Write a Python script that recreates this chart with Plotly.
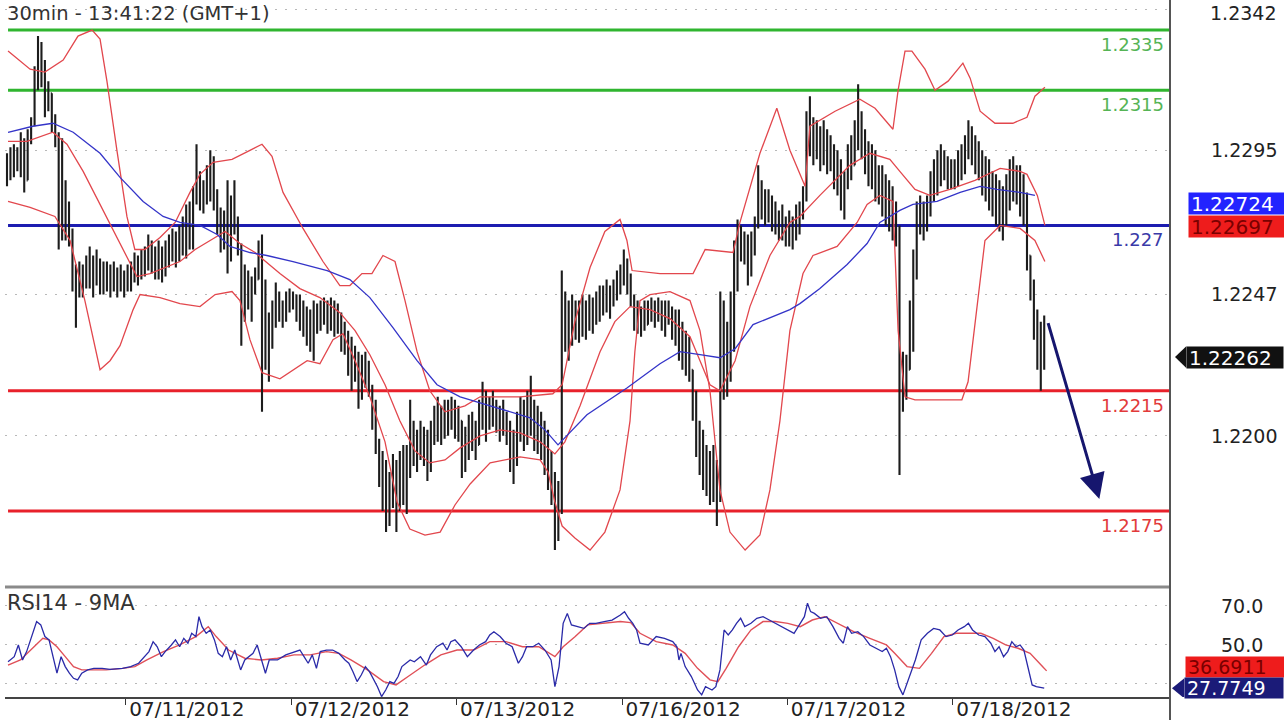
import plotly.graph_objects as go

# ---------------- data (prices in pips above 1.2000) ----------------
PIP = 0.0001
BASE = 1.2000

bar_open = [288,290,288,294,291,298,285,300,304,318,
320,324,311,314,305,299,270,278,270,268,
252,250,254,250,256,253,251,257,252,254,
251,253,250,252,250,251,253,255,257,254,
259,256,263,258,256,261,254,262,260,266,
262,267,265,272,270,278,286,280,283,281,
290,279,272,265,270,262,275,272,263,245,
249,246,250,252,262,228,240,230,240,247,
244,242,246,244,246,241,243,238,236,239,
241,237,242,240,243,238,241,236,232,230,
227,222,225,214,220,218,215,206,198,188,
182,173,178,184,176,190,185,187,200,195,
197,200,195,190,200,205,203,207,204,209,
206,203,205,192,197,200,203,197,208,213,
205,210,207,204,207,203,200,192,195,203,
206,199,210,208,200,203,196,190,186,183,
170,175,245,240,235,242,236,240,244,238,
243,240,246,244,247,249,245,250,252,254,
256,250,246,240,238,241,237,242,240,243,
241,238,242,240,236,238,230,227,231,222,
210,198,192,188,184,185,190,180,240,220,
228,240,255,265,267,262,255,265,270,283,
278,280,275,276,270,272,268,269,266,270,
272,275,280,300,305,295,300,293,298,290,
295,286,288,280,285,293,290,298,303,300,
292,295,285,288,280,283,275,278,270,268,
215,218,222,238,255,270,275,272,276,283,
288,285,293,289,287,288,285,291,289,296,
300,296,293,290,284,288,280,282,275,278,
272,282,285,283,287,278,280,260,250,238,
235,228]

bar_high = [294,296,297,296,301,299,302,306,323,333,
331,325,318,314,307,301,299,285,278,269,
257,258,257,260,263,260,262,259,258,258,
257,258,256,257,255,257,258,261,260,262,
263,267,265,263,265,263,265,267,269,268,
270,273,277,278,283,297,288,285,290,295,
293,282,276,275,285,280,285,273,264,257,
255,253,256,265,267,252,241,245,251,248,
245,248,249,248,247,247,245,243,242,245,
244,245,246,245,246,245,244,241,238,235,
233,230,228,227,228,225,217,212,199,195,
192,188,194,192,195,197,197,212,205,202,
205,203,202,205,210,213,210,212,212,213,
212,210,205,203,207,208,205,212,218,215,
213,215,212,210,212,208,205,202,208,213,
212,215,220,212,210,208,205,202,195,188,
185,255,248,245,247,245,245,247,245,247,
246,248,250,250,252,250,252,255,257,262,
259,254,247,245,243,245,245,246,245,246,
245,245,245,243,242,242,238,235,233,222,
215,205,202,197,195,197,192,248,245,238,
248,265,272,270,268,267,268,273,290,285,
282,282,280,278,275,277,273,275,273,277,
278,283,308,313,306,305,303,305,302,300,
297,295,292,288,297,300,305,317,308,302,
298,297,295,290,290,287,285,283,278,270,
228,227,245,262,278,280,278,280,288,292,
295,297,295,293,292,292,295,297,300,305,
303,300,298,295,293,292,288,287,285,283,
287,292,293,290,290,287,281,260,252,242,
238,240]

bar_low = [283,285,286,288,286,281,285,297,303,315,
316,306,308,301,296,262,265,265,263,248,
236,246,246,249,249,246,250,247,247,248,
246,248,246,248,246,248,248,251,250,252,
253,255,254,252,252,251,253,256,258,256,
258,260,259,262,262,277,275,274,277,278,
275,267,261,262,254,258,267,260,230,238,
242,238,247,252,208,222,218,229,236,238,
236,238,241,242,238,235,233,230,228,225,
234,235,237,234,235,233,234,228,227,220,
215,218,209,212,216,213,202,194,183,175,
168,170,176,168,175,177,174,186,190,188,
192,190,185,188,197,198,197,199,200,202,
199,198,186,188,192,195,192,197,202,198,
202,203,201,198,200,197,188,184,190,198,
195,197,200,195,194,192,187,182,177,162,
165,174,228,225,230,232,231,233,232,235,
234,237,238,240,241,239,243,245,247,250,
247,243,235,234,233,235,237,238,236,238,
235,233,237,232,230,225,222,220,218,205,
193,187,182,180,177,178,170,178,212,213,
218,228,248,258,257,250,253,260,269,272,
270,271,268,267,265,265,263,263,262,265,
267,272,278,293,290,292,288,290,287,288,
282,280,275,272,282,285,290,295,292,287,
283,282,278,277,273,270,268,265,263,187,
208,212,222,228,252,267,265,268,273,278,
280,283,285,282,282,282,283,285,287,292,
290,287,285,280,278,275,273,270,268,265,
270,275,278,277,273,270,255,245,232,222,
215,222]

bar_close = [290,288,294,291,298,285,300,304,318,320,
324,311,314,305,299,270,278,270,268,252,
250,254,250,256,253,251,257,252,254,251,
253,250,252,250,251,253,255,257,254,259,
256,263,258,256,261,254,262,260,266,262,
267,265,272,270,278,286,280,283,281,290,
279,272,265,270,262,275,272,263,245,249,
246,250,252,262,228,240,230,240,247,244,
242,246,244,246,241,243,238,236,239,241,
237,242,240,243,238,241,236,232,230,227,
222,225,214,220,218,215,206,198,188,182,
173,178,184,176,190,185,187,200,195,197,
200,195,190,200,205,203,207,204,209,206,
203,205,192,197,200,203,197,208,213,205,
210,207,204,207,203,200,192,195,203,206,
199,210,208,200,203,196,190,186,183,170,
175,245,240,235,242,236,240,244,238,243,
240,246,244,247,249,245,250,252,254,256,
250,246,240,238,241,237,242,240,243,241,
238,242,240,236,238,230,227,231,222,210,
198,192,188,184,185,190,180,240,220,228,
240,255,265,267,262,255,265,270,283,278,
280,275,276,270,272,268,269,266,270,272,
275,280,300,305,295,300,293,298,290,295,
286,288,280,285,293,290,298,303,300,292,
295,285,288,280,283,275,278,270,268,215,
218,222,238,255,270,275,272,276,283,288,
285,293,289,287,288,285,291,289,296,300,
296,293,290,284,288,280,282,275,278,272,
282,285,283,287,278,280,260,250,238,235,
228,226.2]

# Bollinger bands (red) and moving average (blue): bar position, pips
bb_upper_x = [0.3,6.7,11,16.3,20.6,24.7,27,29,31.9,34.8,37.1,40,44.4,48.8,53.1,56,59.8,65.3,70.5,74,
76.9,80.1,85.9,91.7,96.6,99.5,103,105.9,109.1,112.6,115.5,119,122.7,127.1,132.9,137.3,148.9,158.4,161.1,164.8,
169.2,173.5,177.9,179.9,181.4,189.5,199.1,202.6,210.7,212.7,218.5,223.4,227.2,231.6,233,240.3,247.5,251.9,257.1,258.6,
260.6,262.6,266.4,269.3,273.1,277.4,279.5,282.4,286.7,291.9,296,298.3,301.2]
bb_upper_y = [328,322,321,325,333,335,332,318,295,273,262,262,266,271,281,287,291,292,295,297,
293,281,269,258,250,250,254,254,260,258,245,228,215,208,210,213,213,214,217,238,
256,268,272,265,255,254,254,262,261,271,294,309,295,283,303,308,312,309,302,315,
328,328,322,315,318,324,319,308,304,304,306,313,316]

bb_mid_x = [0.3,5.8,13.3,17.4,22.1,27,31.9,34.8,37.7,41.5,45.9,50.2,54.6,58.9,63.3,67.6,72,74,79.2,85,
90.8,96.6,101,105.3,109.7,114,118.4,122.7,127.1,131.5,137.3,143.1,148.9,154.7,159,161.9,166.3,172.1,176.4,180.8,
186.6,192.4,198.2,201.1,204,206.9,211.3,215.6,221.4,227.2,230.1,235.9,244.6,250.4,256.2,259.1,263.5,267.8,273.6,280.9,
288.2,294,296,299,301.2]
bb_mid_y = [298,298,301,297,288,277,266,259,253,254,256,258,262,265,268,264,261,259,254,249,
246,241,235,227,217,205,195,191,192,196,200,202,201,198,194,198,210,228,238,243,
242,239,233,225,217,215,225,243,260,271,273,280,290,294,292,288,282,280,282,285,
289,288,287,280,270]

bb_lower_x = [0.3,6.7,13.9,18.3,22.6,27,29.9,32.8,36.6,38.6,44.4,50.2,56,60.4,65.3,67.6,70.5,74,79.2,83,
87.1,90.8,94.6,97.5,101,105.3,109.7,113.2,116.9,121.3,125.7,130,134.4,140.2,148.9,154.7,157,159,161.1,164.8,
169.2,173.5,177.9,180.8,182.2,183.7,186.6,192.4,198.2,201.1,204,206.9,209.8,214.2,218.5,221.4,224.3,227.2,231,233.9,
240.9,246.7,249.6,253.3,257.1,258.6,260.6,263.5,267.8,272.2,277.1,278.9,280.9,283.8,288.2,294,298.3,301.2]
bb_lower_y = [278,276,273,265,245,222,225,230,242,247,246,244,243,247,248,245,232,221,219,222,
225,224,232,234,225,213,198,178,169,167,168,177,184,191,193,192,188,178,170,166,
162,168,182,205,228,245,247,248,245,235,215,182,168,162,167,182,205,235,254,260,
263,271,277,280,278,235,213,212,212,212,212,218,238,265,270,269,265,258]

ma_x = [0.3,7.5,13.3,19.2,27,32.8,39.5,45.3,50.2,56,61,64.7,70.5,75.4,83,92.9,99.5,105.3,112,119,
124.8,131.5,137.3,146,151.8,156.1,159.9,168.3,180,189.5,195.3,201.1,206.9,211.3,216.5,227.2,230.1,235.9,243.8,249.6,
253.3,259.1,262.9,269.9,276.6,282.4,287.3,294,298.3]
ma_y = [301,303,304,301,294,286,278,273,271,270,267,263,261,260,258,255,252,246,236,225,
217,213,211,208,206,202,197,207,216,224,228,227,226,229,237,242,244,249,257,264,
271,275,277,278,281,283,282,281,280]

# RSI(14) and its 9-period MA: bar position, value
rsi_x = [0.3,2.1,3.3,4.5,5.7,6.9,8.6,9.8,11,12.2,13.4,14.5,15.7,16.9,18.1,19.3,20.5,21.7,23.4,25.2,
27.6,29.9,33.5,35.9,38.2,40,41.2,42.4,43.6,44.8,45.9,47.7,48.9,50.1,51.3,52.5,53.6,54.8,55.7,56.6,
57.8,59,60.2,61.3,62.5,63.7,64.9,66.1,67.8,69,71.4,72.6,73.8,75,76.1,78.5,80.9,83.3,85,86.2,
87.4,88.6,89.8,90.9,92.7,94.5,96.3,98.1,99.2,100.4,101.6,102.8,104,105.2,106.4,107.5,108.7,109.9,111.1,112.3,
113.5,114.6,115.8,117,118.2,120,121.7,122.9,124.7,126.5,127.7,128.8,130,131.8,133.6,135.4,137.1,138.9,140.1,141.3,
143.1,144.8,146.6,148.4,149.6,150.8,152.6,154.3,156.1,157.9,159,160.2,161.4,162.6,163.8,165.6,167.4,169.1,170.9,173.3,
175.6,178,179.2,180.4,181.6,182.7,183.7,186.1,188.4,190.8,193.2,194.4,195,195.6,196.8,198.6,200.4,201.6,202.7,204.6,
205.7,206.9,208.1,209.3,210.5,211.7,212.9,214.1,215.9,217.6,219.4,221.2,223,224.8,226.6,228.4,230.2,231.4,232.3,233.2,
234.3,236.1,237.9,239.7,241.5,242.7,243.9,245.1,246.9,248.6,250.4,252.2,254,255.2,256.4,257.6,258.8,260,261.2,262.4,
263.6,265.3,267.1,268.9,270.7,272.5,274.3,276,277.8,279,280.2,282,283.8,285.5,286.7,287.9,289.2,290.4,291.6,292.8,
294,295.1,296.3,297.5,298.7,301]
rsi_v = [41.4,44,50,42.3,46.6,52.6,62,60.3,54.3,52.6,44,35.5,44,38.9,35.5,32.9,32.1,35.5,37.2,38,
38,37.5,38,38.9,40.6,44,46.6,51.7,49.1,44,46.6,50,52.6,49.1,53.4,50.9,56,54.3,64.5,59.4,
56,57.7,52.6,45.7,44,49.1,42.3,47.4,37.2,42.3,45.7,50,42.3,35.5,42.3,42.3,44.9,46.6,47.4,44,
40.6,44.9,38,46.6,47.4,47.4,45.7,42.3,40.6,36.3,31.2,34.6,38.9,36.3,32.1,28.6,23.5,26.9,31.2,30.3,
33.8,38.9,40.6,42.3,41.4,44,39.7,44.9,49.1,50.9,47.4,51.7,52.6,49.1,44,47.4,50,51.7,55.1,56.8,
54.3,50.9,49.1,40.6,44,49.1,49.1,50.9,47.4,42.3,28.6,38.9,61.1,66.2,60.3,59.4,58.5,61.1,61.1,62,
62.8,65.4,67.1,63.7,61.1,57.7,50.9,50,54.3,53.4,51.7,49.1,42.3,45.7,38.9,33.8,26.9,24.4,28.6,26.9,
28.6,37.2,57.7,55.1,57.7,61.1,63.7,59.4,61.1,63.7,64.5,62.8,61.1,59.4,57.7,56,61.1,64.5,71.4,67.1,
66.2,63.7,64.5,59.4,53.4,50.9,59.4,56,56.8,54.3,50,48.3,46.6,48.3,44,37.2,28.6,24.4,30.3,37.2,
42.3,52.6,56,58.5,57.7,54.3,55.1,57.7,59.4,61.1,57.7,55.1,54.3,50.9,46.6,49.1,44,46.6,51.7,49.1,
50,47.4,38.9,29.5,28.6,27.8]

rsi_ma_x = [0.3,3.9,7.4,10.4,12.2,14.5,16.9,19.3,21.7,25.2,28.8,33.5,37.1,40.6,45.4,50.1,54.8,58.4,60.7,64.3,
69,73.8,78.5,83.3,88,92.7,96.3,99.8,104.6,109.3,112.9,116.4,121.2,125.9,130.6,135.4,140.1,144.8,149.6,154.3,
159,161.4,164.9,168.5,173.3,178,181,183.7,188.4,193.2,196.8,200.4,204,206.3,208.7,212.3,215.9,219.4,223,226.6,
230.2,233.7,237.3,240.9,245.7,250.4,255.2,257.6,261.2,264.8,268.3,271.9,275.5,279,282.6,286.2,289.8,293.4,296.9,300.5,
301.7]
rsi_ma_v = [39.7,42.3,48.3,53.4,52.6,49.1,44,38.9,37.2,37.2,37.2,38,38.9,42.3,46.6,50,54.3,59.4,54.3,47.4,
43.2,42.3,43.2,44.9,44.9,46.6,45.7,42.3,37.2,31.2,29.5,33.8,39.7,44.9,47.4,47.4,51.7,51.7,49.1,49.1,
44,49.1,54.3,60.3,61.1,62,61.5,56,51.7,50,45.7,38,32.1,31.2,38,49.1,57.7,62,62,61.1,
59.4,62.8,64.5,61.1,56.8,53.4,50,45.7,38.9,38,45.7,54.3,56,56,56,53.4,50,48.3,45.7,38.9,
36.7]

# axis ticks / labels
day_tick_pos = [34.5, 82.5, 130.5, 178.5, 226.5, 274.5]
day_tick_text = ["07/11/2012", "07/12/2012", "07/13/2012", "07/16/2012", "07/17/2012", "07/18/2012"]
price_tick_vals = [1.2342, 1.2295, 1.2247, 1.2200]
price_tick_text = ["1.2342", "1.2295", "1.2247", "1.2200"]
rsi_tick_vals = [30, 50, 70]
rsi_tick_text = ["", "50.0", "70.0"]

# horizontal support / resistance levels
levels = [1.2335, 1.2315, 1.227, 1.2215, 1.2175]
level_text = ["1.2335", "1.2315", "1.227", "1.2215", "1.2175"]
level_line_colors = ["#2fb52f", "#2fb52f", "#1c1cb0", "#e8212b", "#e8212b"]
level_text_colors = ["#55b455", "#55b455", "#3a3aa8", "#e23a3a", "#e23a3a"]

# value tags on the right scale
price_tags = [1.22724, 1.22697, 1.22262]
rsi_tags = [36.6911, 27.7749]

# forecast arrow: (bar, price) start and end
forecast_start = (302, 1.2238)
forecast_end = (317, 1.2179)

# ---------------- figure ----------------
FONT = "DejaVu Sans"
X_RANGE = [-0.58, 337.5]


def to_price(pips):
    return [round(BASE + v * PIP, 5) for v in pips]


bar_x = list(range(len(bar_close)))

fig = go.Figure()
fig.add_trace(go.Ohlc(
    x=bar_x, open=to_price(bar_open), high=to_price(bar_high),
    low=to_price(bar_low), close=to_price(bar_close),
    increasing=dict(line=dict(color="#1c1c1c", width=2.1)),
    decreasing=dict(line=dict(color="#1c1c1c", width=2.1)),
    tickwidth=0.3, xaxis="x", yaxis="y", showlegend=False, hoverinfo="skip"))

RED = "#e2474d"
for xs, ys in [(bb_upper_x, bb_upper_y), (bb_mid_x, bb_mid_y), (bb_lower_x, bb_lower_y)]:
    fig.add_trace(go.Scatter(x=xs, y=to_price(ys), mode="lines",
                             line=dict(color=RED, width=1.3),
                             xaxis="x", yaxis="y", showlegend=False, hoverinfo="skip"))
fig.add_trace(go.Scatter(x=ma_x, y=to_price(ma_y), mode="lines",
                         line=dict(color="#3434c8", width=1.3),
                         xaxis="x", yaxis="y", showlegend=False, hoverinfo="skip"))

fig.add_trace(go.Scatter(x=rsi_ma_x, y=rsi_ma_v, mode="lines",
                         line=dict(color="#e05058", width=1.4),
                         xaxis="x2", yaxis="y2", showlegend=False, hoverinfo="skip"))
fig.add_trace(go.Scatter(x=rsi_x, y=rsi_v, mode="lines",
                         line=dict(color="#2a2aa8", width=1.3),
                         xaxis="x2", yaxis="y2", showlegend=False, hoverinfo="skip"))

grid = dict(showgrid=True, gridcolor="#b8b8b8", griddash="2px,8px", gridwidth=1)
tickfont = dict(family=FONT, size=19, color="#222")

# the top price label sits at the very edge of the page: draw it as an
# annotation nudged inside the page, keep the others as axis tick labels
axis_tick_text = [""] + price_tick_text[1:]

fig.update_layout(
    width=1284, height=720,
    margin=dict(l=5, r=114, t=0, b=23, autoexpand=False),
    paper_bgcolor="white", plot_bgcolor="white",
    showlegend=False,
    font=dict(family=FONT, color="#222", size=18),
    xaxis=dict(domain=[0, 1], anchor="y", range=X_RANGE, showticklabels=False,
               showgrid=False, zeroline=False, ticks="", automargin=False,
               rangeslider=dict(visible=False)),
    yaxis=dict(domain=[0.15925, 1], anchor="x", range=[1.215005, 1.2345],
               side="right", tickvals=price_tick_vals, ticktext=axis_tick_text,
               ticks="", zeroline=False, ticklabelstandoff=40, ticklabeloverflow="allow",
               automargin=False, tickfont=tickfont, **grid),
    xaxis2=dict(domain=[0, 1], anchor="y2", range=X_RANGE,
                tickvals=day_tick_pos, ticktext=day_tick_text,
                ticks="outside", ticklen=6, tickwidth=1, tickcolor="#333",
                ticklabelshift=61, ticklabelstandoff=-13, ticklabeloverflow="allow",
                showline=True, linecolor="#444", linewidth=2, automargin=False,
                showgrid=False, zeroline=False,
                tickfont=dict(family=FONT, size=20, color="#222")),
    yaxis2=dict(domain=[0, 0.15352], anchor="x2", range=[23.3, 78.2],
                side="right", tickvals=rsi_tick_vals, ticktext=rsi_tick_text,
                ticks="", zeroline=False, ticklabelstandoff=50, ticklabeloverflow="allow",
                automargin=False, tickfont=tickfont, **grid),
)

shapes = []
for lv, col in zip(levels, level_line_colors):
    shapes.append(dict(type="line", xref="x domain", yref="y", x0=0.0026, x1=1,
                       y0=lv, y1=lv, line=dict(color=col, width=3), layer="below"))
# panel separator, right scale border
shapes.append(dict(type="line", xref="paper", yref="paper", x0=0, x1=1, y0=0.1578, y1=0.1578,
                   line=dict(color="#8a8a8a", width=3)))
shapes.append(dict(type="line", xref="paper", yref="paper", x0=1, x1=1, y0=-0.04, y1=1.0,
                   line=dict(color="#555", width=2)))

annotations = []
annotations.append(dict(text=price_tick_text[0], xref="paper", yref="paper",
                        x=1.0322, y=1, xanchor="left", yanchor="top", yshift=0, showarrow=False,
                        font=tickfont))
annotations.append(dict(text="30min - 13:41:22 (GMT+1)", xref="paper", yref="paper",
                        x=0, y=1, xanchor="left", yanchor="top", yshift=0, showarrow=False,
                        font=dict(family=FONT, size=19.5, color="#333")))
annotations.append(dict(text="RSI14 - 9MA", xref="paper", yref="y2 domain",
                        x=0, y=1, xanchor="left", yanchor="top", yshift=1, showarrow=False,
                        font=dict(family=FONT, size=21, color="#333")))
for lv, txt, col in zip(levels, level_text, level_text_colors):
    annotations.append(dict(text=txt, xref="x domain", yref="y", x=0.9966, y=lv,
                            xanchor="right", yanchor="top", yshift=-2, showarrow=False,
                            font=dict(family=FONT, size=18, color=col)))

tag_styles = [  # (x paper, yshift, bg, fg)
    (1.0155, 15, "#2323ff", "white"),
    (1.0155, 0, "#ee1c1c", "#7a0000"),
    (1.0137, 0, "#111111", "white"),
]
for val, (xp, ys, bg, fg) in zip(price_tags, tag_styles):
    annotations.append(dict(text=f"{val:.5f}", xref="paper", yref="y", x=xp, y=val,
                            xanchor="left", yanchor="middle", yshift=ys, showarrow=False,
                            width=92, height=17, align="left", bgcolor=bg, borderpad=2,
                            font=dict(family=FONT, size=20, color=fg)))
rsi_tag_styles = [
    (1.0129, 4, "#ee1c1c", "#7a0000"),
    (1.0120, 0, "#1b1b78", "white"),
]
for val, (xp, ys, bg, fg) in zip(rsi_tags, rsi_tag_styles):
    annotations.append(dict(text=f"{val:.4f}", xref="paper", yref="y2", x=xp, y=val,
                            xanchor="left", yanchor="middle", yshift=ys, showarrow=False,
                            width=94, height=16, align="left", bgcolor=bg, borderpad=2,
                            font=dict(family=FONT, size=19, color=fg)))
# pointer triangles of the last-price tags
lp = price_tags[2]
shapes.append(dict(type="path", xref="paper", yref="y",
                   path=f"M 1.0043,{lp} L 1.0140,{lp + 0.00036} L 1.0140,{lp - 0.00036} Z",
                   fillcolor="#111111", line=dict(width=0)))
lr = rsi_tags[1]
shapes.append(dict(type="path", xref="paper", yref="y2",
                   path=f"M 1.0017,{lr} L 1.0123,{lr + 5.2} L 1.0123,{lr - 5.2} Z",
                   fillcolor="#1b1b78", line=dict(width=0)))

annotations.append(dict(x=forecast_end[0], y=forecast_end[1], ax=forecast_start[0], ay=forecast_start[1],
                        xref="x", yref="y", axref="x", ayref="y", text="", showarrow=True,
                        arrowhead=2, arrowsize=1.7, arrowwidth=3, arrowcolor="#16166e"))

fig.update_layout(shapes=shapes, annotations=annotations)
fig.write_html("out.html", config={"displayModeBar": False},
               post_script="document.body.style.margin='0';document.body.style.overflow='hidden';")
